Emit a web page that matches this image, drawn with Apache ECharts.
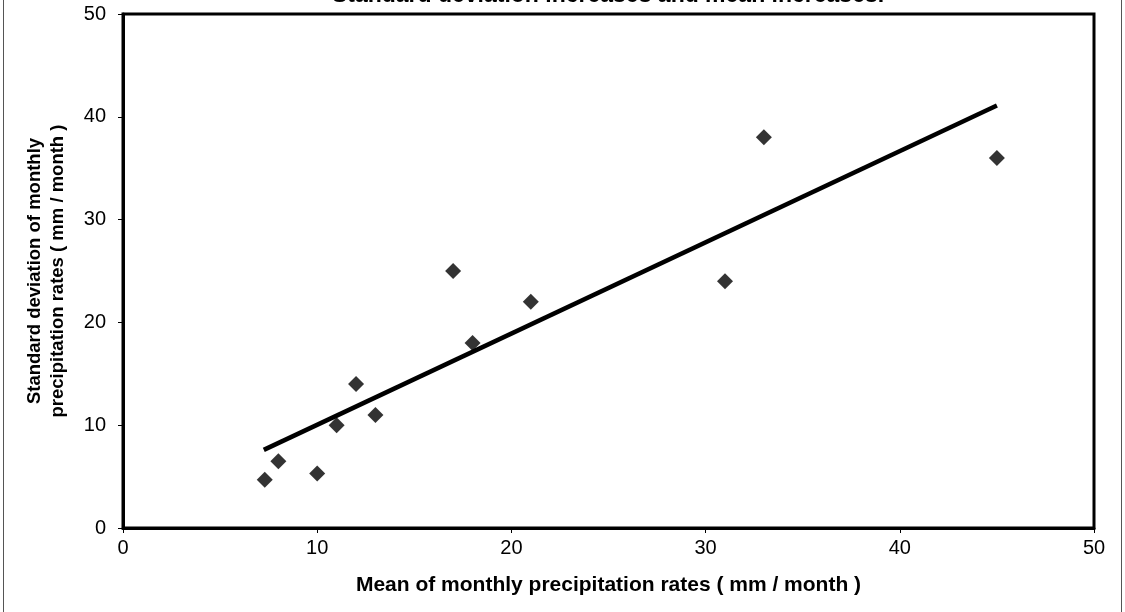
<!DOCTYPE html>
<html>
<head>
<meta charset="utf-8">
<script src="https://cdn.jsdelivr.net/npm/echarts@6/dist/echarts.min.js"></script>
<style>
html,body{margin:0;padding:0;background:#fff;}
#chart{width:1125px;height:612px;}
</style>
</head>
<body>
<div id="chart"></div>
<script>
const titleText = "Standard deviation increases and mean increases.";
const xAxisName = "Mean of monthly precipitation rates ( mm / month )";
const yAxisName = "Standard deviation of monthly\nprecipitation rates ( mm / month )";
const meanValues = [7.3, 8, 10, 11, 12, 13, 17, 18, 21, 31, 33, 45];
const stdValues = [4.7, 6.5, 5.3, 10, 14, 11, 25, 18, 22, 24, 38, 36];
const trendX = [7.25, 45];
const trendY = [7.6, 41.1];

const chart = echarts.init(document.getElementById('chart'));
const FONT = 'Liberation Sans, Arial, sans-serif';
chart.setOption({
  backgroundColor: '#fff',
  animation: false,
  graphic: [
    { type: 'line', shape: { x1: 3.5, y1: 0, x2: 3.5, y2: 612 }, style: { stroke: '#555', lineWidth: 1 } },
    { type: 'line', shape: { x1: 1121.5, y1: 0, x2: 1121.5, y2: 612 }, style: { stroke: '#555', lineWidth: 1 } },
    { type: 'text', x: 608, y: 7, style: { text: titleText, font: 'bold 23px ' + FONT, fill: '#000', textAlign: 'center', textVerticalAlign: 'bottom' } }
  ],
  grid: { left: 123, right: 31, top: 14, bottom: 84, show: true, borderColor: '#000', borderWidth: 3, backgroundColor: '#fff' },
  xAxis: {
    type: 'value', min: 0, max: 50, interval: 10,
    name: xAxisName, nameLocation: 'middle', nameGap: 47,
    nameTextStyle: { fontFamily: FONT, fontWeight: 'bold', fontSize: 21, color: '#000' },
    axisLine: { show: true, lineStyle: { color: '#000', width: 3 } },
    axisTick: { show: true, length: 5, lineStyle: { color: '#000', width: 1 } },
    axisLabel: { fontFamily: FONT, fontSize: 20, color: '#000', margin: 10 },
    splitLine: { show: false }
  },
  yAxis: {
    type: 'value', min: 0, max: 50, interval: 10,
    name: yAxisName, nameLocation: 'middle', nameGap: 54, nameRotate: 90,
    nameTextStyle: { fontFamily: FONT, fontWeight: 'bold', fontSize: 18.5, color: '#000', lineHeight: 23 },
    axisLine: { show: true, lineStyle: { color: '#000', width: 3 } },
    axisTick: { show: true, length: 5, lineStyle: { color: '#000', width: 1 } },
    axisLabel: { fontFamily: FONT, fontSize: 20, color: '#000', margin: 17 },
    splitLine: { show: false }
  },
  series: [
    {
      type: 'line',
      data: trendX.map((x, i) => [x, trendY[i]]),
      showSymbol: false,
      lineStyle: { color: '#000', width: 4.5 },
      z: 2
    },
    {
      type: 'scatter',
      data: meanValues.map((x, i) => [x, stdValues[i]]),
      symbol: 'diamond',
      symbolSize: 16,
      itemStyle: { color: '#000' },
      z: 3
    }
  ]
});
</script>
</body>
</html>
